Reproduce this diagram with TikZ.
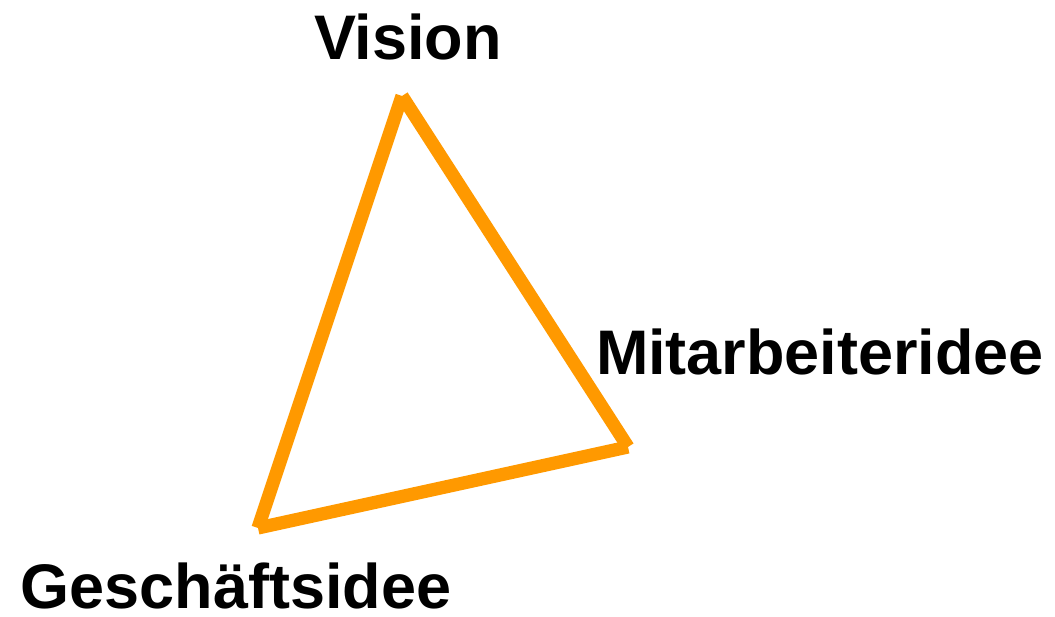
\documentclass[tikz,border=0pt]{standalone}
\usepackage{fontspec}
\setmainfont{Liberation Sans}
\usetikzlibrary{calc}
\usepackage{tkz-euclide}
\definecolor{TriClr}{RGB}{255,153,0}

\begin{document}
\begin{tikzpicture}[lbl/.style={anchor=base,inner sep=0pt,text depth=0pt,font=\fontsize{44.8}{54}\selectfont\bfseries}]
\useasboundingbox (0,0) rectangle (26.375,15.425);

\tkzDefPoints{10.05/13.025/V,15.7/4.25/M,6.45/2.225/G}

% \tkzDrawPoints(V,M,G)
\tkzDrawSegments[color=TriClr,line width=0.33cm,line cap=butt](G,V V,M M,G)

\node[lbl] (vision) at (10.2,13.925) {Vision};
\node[lbl] (mitarb) at (20.5,6.05) {Mitarbeiteridee};
\node[lbl] (gesch) at (5.9,0.2) {Geschäftsidee};

\end{tikzpicture}
\end{document}
